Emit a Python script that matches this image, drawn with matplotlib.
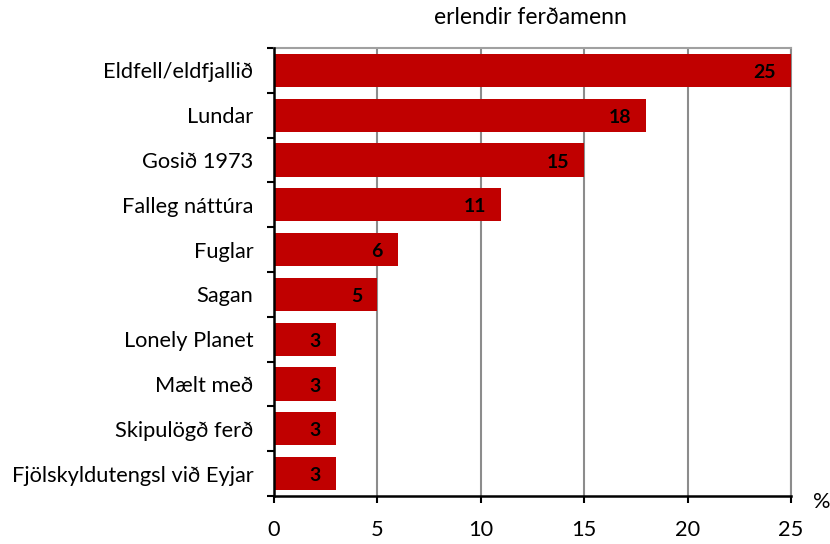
import matplotlib
matplotlib.use("Agg")
import matplotlib.pyplot as plt
import numpy as np

categories = ["Eldfell/eldfjallið", "Lundar", "Gosið 1973", "Falleg náttúra", "Fuglar",
              "Sagan", "Lonely Planet", "Mælt með", "Skipulögð ferð", "Fjölskyldutengsl við Eyjar"]
values = [25, 18, 15, 11, 6, 5, 3, 3, 3, 3]
xticks = [0, 5, 10, 15, 20, 25]
title = "erlendir ferðamenn"

plt.rcParams['font.family'] = ['Lato', 'DejaVu Sans']

fig = plt.figure(figsize=(8.3, 5.44), dpi=100)
ax = fig.add_axes([274/830, 1 - 496/544, (791-274)/830, (496-48)/544])

n = len(categories)
y = np.arange(n)
bars = ax.barh(y, values, height=0.74, color="#C00000", zorder=3)
ax.set_ylim(n - 0.5, -0.5)
ax.set_xlim(0, 25)

for yi, v in zip(y, values):
    ax.annotate(str(v), xy=(v, yi), xytext=(-11, -1.5), textcoords="offset points",
                ha="right", va="center", fontsize=14, fontweight="bold", color="black", zorder=4)

ax.set_yticks(y)
ax.set_yticklabels(categories, fontsize=15.7)
ax.tick_params(axis='y', which='major', length=0, pad=15)
ax.set_yticks(np.arange(-0.5, n, 1), minor=True)
ax.tick_params(axis='y', which='minor', length=5, width=1.5, direction='out')

ax.set_xticks(xticks)
ax.set_xticklabels([str(t) for t in xticks], fontsize=15.7)
ax.tick_params(axis='x', length=5, width=1.5, direction='out', pad=12)

ax.grid(axis='x', color='#8c8c8c', linewidth=1.5, zorder=0)
ax.set_axisbelow(True)
for s in ['left', 'bottom']:
    ax.spines[s].set_linewidth(1.8)
    ax.spines[s].set_color('black')
    ax.spines[s].set_zorder(5)
ax.spines['top'].set_color('#a0a0a0')
ax.spines['top'].set_linewidth(1.5)
ax.spines['right'].set_color('#8c8c8c')
ax.spines['right'].set_linewidth(1.5)

fig.text(530/830, 1 - 18/544, title, ha='center', va='center', fontsize=16.5)
fig.text(822/830, 1 - 502/544, "%", ha='center', va='center', fontsize=15.7)

fig.savefig("out.png", dpi=100)
